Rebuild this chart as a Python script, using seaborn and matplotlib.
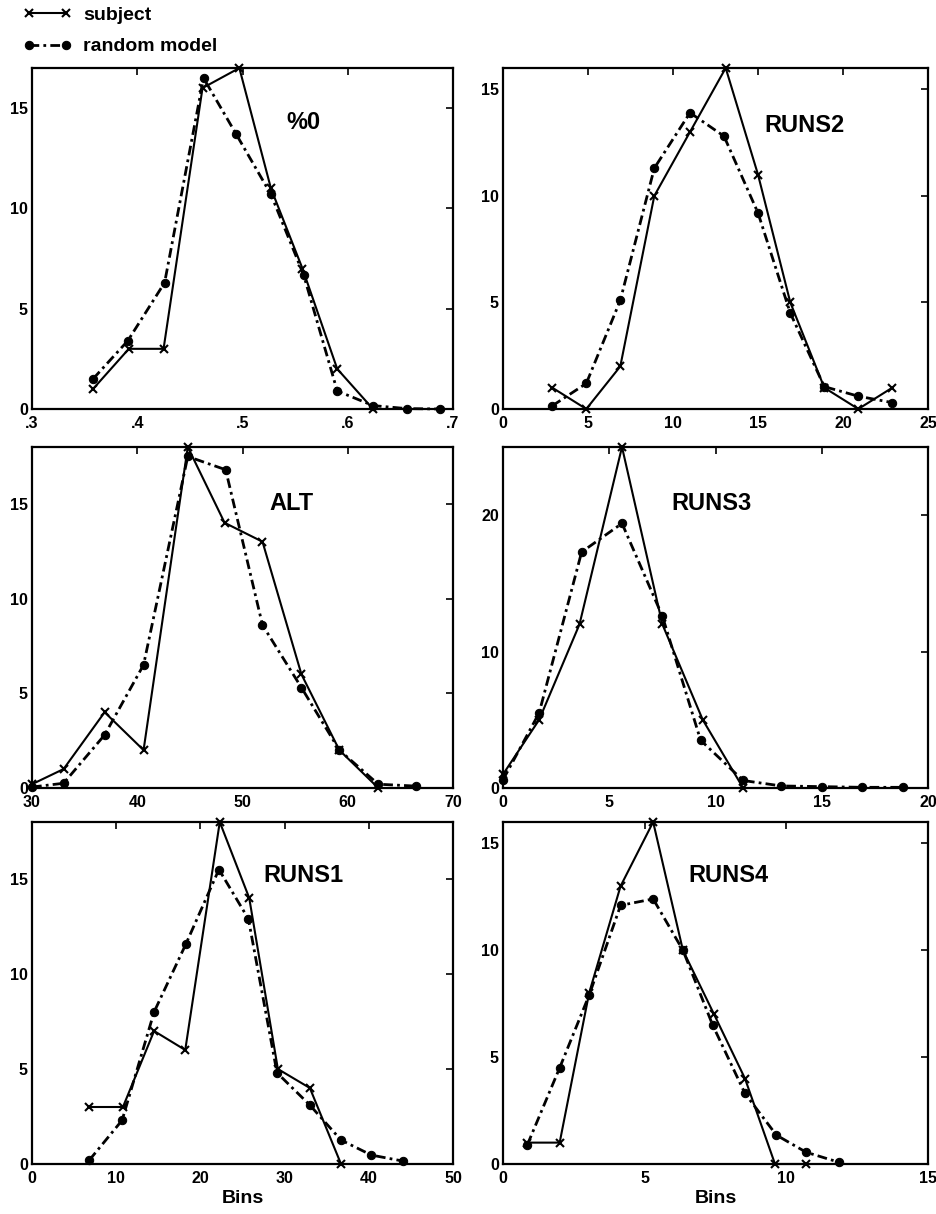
import numpy as np
import pandas as pd
import seaborn as sns
import matplotlib
matplotlib.use("Agg")
import matplotlib.pyplot as plt
from matplotlib.ticker import FuncFormatter

# ---------------- data ----------------
titles = ["%0", "RUNS2", "ALT", "RUNS3", "RUNS1", "RUNS4"]

p0_subj_x = [.358, .392, .425, .462, .497, .527, .557, .590, .624]
p0_subj_y = [1, 3, 3, 16, 17, 11, 7, 2, 0]
p0_model_x = [.358, .391, .426, .463, .494, .527, .558, .590, .624, .656, .688]
p0_model_y = [1.5, 3.4, 6.3, 16.5, 13.7, 10.7, 6.7, 0.9, 0.17, 0.02, 0.0]

r2_subj_x = [2.9, 4.9, 6.9, 8.9, 11.0, 13.1, 15.0, 16.9, 18.9, 20.9, 22.9]
r2_subj_y = [1, 0, 2, 10, 13, 16, 11, 5, 1, 0, 1]
r2_model_x = [2.9, 4.9, 6.9, 8.9, 11.0, 13.0, 15.0, 16.9, 18.9, 20.9, 22.9]
r2_model_y = [0.15, 1.2, 5.1, 11.3, 13.9, 12.8, 9.2, 4.5, 1.05, 0.6, 0.3]

alt_subj_x = [30.0, 33.0, 36.9, 40.6, 44.8, 48.3, 51.9, 55.6, 59.2, 62.9]
alt_subj_y = [0.2, 1, 4, 2, 18, 14, 13, 6, 2, 0]
alt_model_x = [30.0, 33.0, 36.9, 40.6, 44.8, 48.4, 51.9, 55.6, 59.2, 62.9, 66.5]
alt_model_y = [0.05, 0.25, 2.8, 6.5, 17.5, 16.8, 8.6, 5.3, 2.0, 0.2, 0.1]

r3_subj_x = [0.0, 1.7, 3.6, 5.6, 7.5, 9.4, 11.3]
r3_subj_y = [1, 5, 12, 25, 12, 5, 0]
r3_model_x = [0.0, 1.7, 3.7, 5.6, 7.5, 9.3, 11.3, 13.1, 15.0, 16.9, 18.8]
r3_model_y = [0.6, 5.5, 17.3, 19.4, 12.6, 3.5, 0.55, 0.15, 0.1, 0.05, 0.05]

r1_subj_x = [6.8, 10.8, 14.5, 18.2, 22.3, 25.8, 29.2, 33.0, 36.7]
r1_subj_y = [3, 3, 7, 6, 18, 14, 5, 4, 0]
r1_model_x = [6.8, 10.7, 14.5, 18.3, 22.2, 25.7, 29.1, 33.0, 36.7, 40.3, 44.1]
r1_model_y = [0.2, 2.3, 8.0, 11.6, 15.5, 12.9, 4.8, 3.1, 1.26, 0.47, 0.15]

r4_subj_x = [0.86, 2.0, 3.04, 4.15, 5.3, 6.35, 7.45, 8.54, 9.6, 10.7]
r4_subj_y = [1, 1, 8, 13, 16, 10, 7, 4, 0, 0]
r4_model_x = [0.86, 2.0, 3.04, 4.15, 5.3, 6.35, 7.4, 8.54, 9.65, 10.7, 11.86]
r4_model_y = [0.9, 4.5, 7.9, 12.1, 12.4, 10.0, 6.5, 3.3, 1.35, 0.55, 0.08]

subj_x = [p0_subj_x, r2_subj_x, alt_subj_x, r3_subj_x, r1_subj_x, r4_subj_x]
subj_y = [p0_subj_y, r2_subj_y, alt_subj_y, r3_subj_y, r1_subj_y, r4_subj_y]
model_x = [p0_model_x, r2_model_x, alt_model_x, r3_model_x, r1_model_x, r4_model_x]
model_y = [p0_model_y, r2_model_y, alt_model_y, r3_model_y, r1_model_y, r4_model_y]

xlims = [(.3, .7), (0, 25), (30, 70), (0, 20), (0, 50), (0, 15)]
xticks = [[.3, .4, .5, .6, .7], [0, 5, 10, 15, 20, 25], [30, 40, 50, 60, 70],
          [0, 5, 10, 15, 20], [0, 10, 20, 30, 40, 50], [0, 5, 10, 15]]
ylims = [(0, 17), (0, 16), (0, 18), (0, 25), (0, 18), (0, 16)]
yticks = [[0, 5, 10, 15], [0, 5, 10, 15], [0, 5, 10, 15], [0, 10, 20],
          [0, 5, 10, 15], [0, 5, 10, 15]]
title_pos = [(0.644, 0.84), (0.71, 0.83), (0.617, 0.835), (0.49, 0.834),
             (0.644, 0.845), (0.53, 0.845)]

# ---------------- style ----------------
sns.set_theme(style="white")
plt.rcParams["font.family"] = ["Liberation Sans", "DejaVu Sans"]
plt.rcParams["font.weight"] = "bold"
plt.rcParams["text.color"] = "black"
plt.rcParams["axes.labelcolor"] = "black"

fig = plt.figure(figsize=(9.36, 12.14), dpi=100)

left_cols = [(32, 453), (503, 928)]
rows = [(68, 409), (447, 788), (822, 1164)]
W, H = 936, 1214

axes = []
for i in range(6):
    r, c = divmod(i, 2)
    x0, x1 = left_cols[c]
    t, b = rows[r]
    ax = fig.add_axes([x0 / W, 1 - b / H, (x1 - x0) / W, (b - t) / H])
    axes.append(ax)

model_ls = (0, (3.5, 1.5, 1, 1.5))

for i, ax in enumerate(axes):
    sns.lineplot(x=subj_x[i], y=subj_y[i], ax=ax, color="black", lw=1.5,
                 marker="x", markersize=6, markeredgewidth=1.5,
                 markeredgecolor="black", sort=False, estimator=None,
                 label="subject", clip_on=False)
    sns.lineplot(x=model_x[i], y=model_y[i], ax=ax, color="black", lw=2.0,
                 linestyle=model_ls, marker="o", markersize=6,
                 markerfacecolor="black", markeredgecolor="black",
                 sort=False, estimator=None, label="random model", clip_on=False)
    ax.set_xlim(*xlims[i])
    ax.set_ylim(*ylims[i])
    ax.set_xticks(xticks[i])
    ax.set_yticks(yticks[i])
    ax.tick_params(direction="in", length=5, width=1.2, top=True, right=True,
                   labelsize=11.5, colors="black")
    ax.tick_params(axis="x", pad=5)
    ax.tick_params(axis="y", pad=3)
    for lab in ax.get_xticklabels() + ax.get_yticklabels():
        lab.set_fontweight("bold")
    for s in ax.spines.values():
        s.set_color("black")
        s.set_linewidth(1.6)
    ax.set_xlabel("")
    ax.set_ylabel("")
    ax.text(title_pos[i][0], title_pos[i][1], titles[i], transform=ax.transAxes,
            ha="center", va="center", fontsize=17, fontweight="bold",
            color="black")
    if ax.get_legend() is not None:
        ax.get_legend().remove()

axes[0].xaxis.set_major_formatter(
    FuncFormatter(lambda v, p: ("%.1f" % v).lstrip("0")))

for ax in axes[4:]:
    ax.set_xlabel("Bins", fontsize=14, fontweight="bold", labelpad=3,
                  color="black")

handles, labels = axes[0].get_legend_handles_labels()
leg = fig.legend(handles, labels, loc="upper left", bbox_to_anchor=(0.006, 1.009),
                 frameon=False, handlelength=2.5, handletextpad=0.6,
                 labelspacing=0.7, numpoints=2,
                 prop={"weight": "bold", "size": 14})
for t in leg.get_texts():
    t.set_color("black")

fig.savefig("out.png", dpi=100)
